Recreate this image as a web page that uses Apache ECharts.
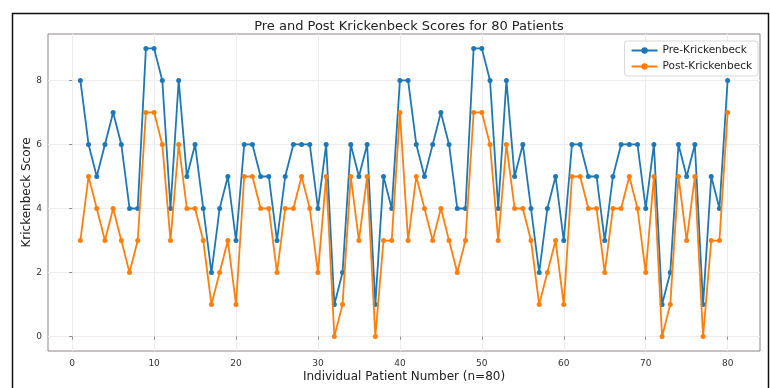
<!DOCTYPE html>
<html>
<head>
<meta charset="utf-8">
<script src="https://cdn.jsdelivr.net/npm/echarts@6/dist/echarts.min.js"></script>
<style>html,body{margin:0;padding:0;background:#fff;}#c{width:770px;height:388px;}</style>
</head>
<body>
<div id="c"></div>
<script>
var patients = [];
for (var i = 1; i <= 80; i++) patients.push(i);
var preScores = [8,6,5,6,7,6,4,4,9,9,8,4,8,5,6,4,2,4,5,3,
                 6,6,5,5,3,5,6,6,6,4,6,1,2,6,5,6,1,5,4,8,
                 8,6,5,6,7,6,4,4,9,9,8,4,8,5,6,4,2,4,5,3,
                 6,6,5,5,3,5,6,6,6,4,6,1,2,6,5,6,1,5,4,8];
var postScores = [3,5,4,3,4,3,2,3,7,7,6,3,6,4,4,3,1,2,3,1,
                  5,5,4,4,2,4,4,5,4,2,5,0,1,5,3,5,0,3,3,7,
                  3,5,4,3,4,3,2,3,7,7,6,3,6,4,4,3,1,2,3,1,
                  5,5,4,4,2,4,4,5,4,2,5,0,1,5,3,5,0,3,3,7];
var xTicks = [0,10,20,30,40,50,60,70,80];
var yTicks = [0,2,4,6,8];

var font = 'DejaVu Sans';
var chart = echarts.init(document.getElementById('c'), null, {renderer: 'canvas'});
function pairs(vals){ return vals.map(function(v,i){ return [patients[i], v]; }); }
chart.setOption({
  animation: false,
  backgroundColor: '#fff',
  textStyle: {fontFamily: font},
  title: {
    text: 'Pre and Post Krickenbeck Scores for 80 Patients',
    left: 404, top: 15, textAlign: 'center',
    textStyle: {fontFamily: font, fontSize: 13, fontWeight: 'normal', color: '#222'}
  },
  grid: {left: 48, top: 34, right: 10, bottom: 35, show: true, borderColor: '#8f8585', borderWidth: 1, backgroundColor: 'transparent'},
  legend: {
    right: 12, top: 41, orient: 'vertical',
    itemWidth: 26, itemHeight: 8, itemGap: 5,
    padding: [4, 6, 4, 6],
    backgroundColor: 'rgba(255,255,255,0.8)', borderColor: '#d8d8d8', borderWidth: 1, borderRadius: 3,
    textStyle: {fontFamily: font, fontSize: 10.5, color: '#222'},
    data: ['Pre-Krickenbeck', 'Post-Krickenbeck']
  },
  xAxis: {
    type: 'value', min: -2.95, max: 83.95,
    name: 'Individual Patient Number (n=80)', nameLocation: 'middle', nameGap: 20, nameMoveOverlap: false,
    nameTextStyle: {fontFamily: font, fontSize: 12, color: '#222'},
    axisLine: {show: false},
    axisTick: {show: true, length: 3, lineStyle: {color: '#888'}, customValues: xTicks},
    axisLabel: {fontSize: 9, color: '#333', margin: 8, customValues: xTicks},
    splitLine: {show: true, lineStyle: {color: '#ececec', width: 1}}
  },
  yAxis: {
    type: 'value', min: -0.45, max: 9.45,
    name: 'Krickenbeck Score', nameLocation: 'middle', nameGap: 15, nameMoveOverlap: false,
    nameTextStyle: {fontFamily: font, fontSize: 12, color: '#222'},
    axisLine: {show: false},
    axisTick: {show: true, length: 3, lineStyle: {color: '#888'}, customValues: yTicks},
    axisLabel: {fontSize: 9, color: '#333', margin: 6, customValues: yTicks},
    splitLine: {show: true, lineStyle: {color: '#ececec', width: 1}}
  },
  series: [
    {name: 'Pre-Krickenbeck', type: 'line', data: pairs(preScores), symbol: 'circle', symbolSize: 5,
     itemStyle: {color: '#1f77b4'}, lineStyle: {color: '#1f77b4', width: 1.8}, z: 3},
    {name: 'Post-Krickenbeck', type: 'line', data: pairs(postScores), symbol: 'circle', symbolSize: 5,
     itemStyle: {color: '#ff7f0e'}, lineStyle: {color: '#ff7f0e', width: 1.8}, z: 4}
  ],
  graphic: [{
    type: 'rect', shape: {x: 12.5, y: 13.5, width: 756, height: 400},
    style: {fill: 'none', stroke: '#111', lineWidth: 1.5}, silent: true
  }]
});
</script>
</body>
</html>
